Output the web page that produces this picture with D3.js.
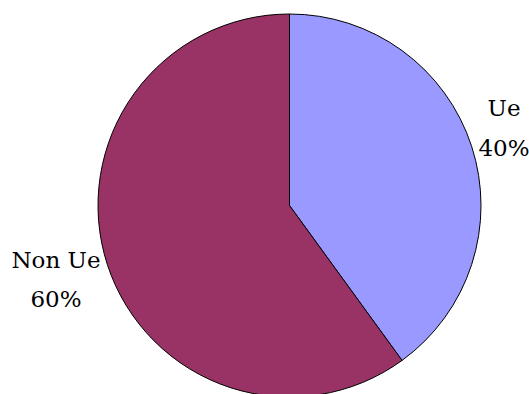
<!DOCTYPE html>
<html><head><meta charset="utf-8">
<script src="https://cdn.jsdelivr.net/npm/d3@7"></script>
<style>body{margin:0;background:#fff}svg{display:block}</style>
</head><body>
<script>
const categories = ["Ue", "Non Ue"];
const values = [40, 60];
const colors = ["#9999FF", "#993366"];

const W = 529, H = 394;
const cx = 289.5, cy = 205.5, r = 191.5;
const svg = d3.select("body").append("svg").attr("width", W).attr("height", H);
const pie = d3.pie().sort(null).value(d => d.v);
const arcs = pie(categories.map((c, i) => ({c, v: values[i], col: colors[i]})));
const arc = d3.arc().innerRadius(0).outerRadius(r);
const g = svg.append("g").attr("transform", `translate(${cx},${cy})`);
g.selectAll("path").data(arcs).join("path")
  .attr("d", arc).attr("fill", d => d.data.col)
  .attr("stroke", "#000").attr("stroke-width", 1).attr("stroke-linejoin", "round");

const labelPos = [
  {x: 504, y1: 116, y2: 156},
  {x: 56, y1: 268, y2: 307}
];
const total = d3.sum(values);
arcs.forEach((d, i) => {
  const p = labelPos[i];
  const t = svg.append("text").attr("font-family", "'DejaVu Serif', serif")
    .attr("font-size", 23).attr("text-anchor", "middle").attr("fill", "#000");
  t.append("tspan").attr("x", p.x).attr("y", p.y1).text(d.data.c);
  t.append("tspan").attr("x", p.x).attr("y", p.y2).text(Math.round(d.data.v / total * 100) + "%");
});
</script>
</body></html>
